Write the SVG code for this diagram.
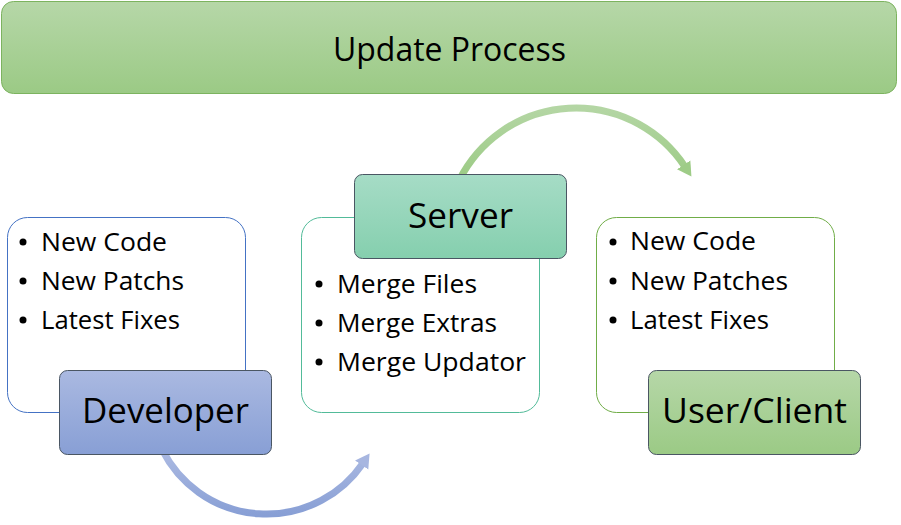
<svg xmlns="http://www.w3.org/2000/svg" width="901" height="525" viewBox="0 0 901 525">
<defs>
<linearGradient id="gGreen" x1="0" y1="0" x2="0" y2="1"><stop offset="0" stop-color="#b6d7a8"/><stop offset="1" stop-color="#9bca85"/></linearGradient>
<linearGradient id="gBlue" x1="0" y1="0" x2="0" y2="1"><stop offset="0" stop-color="#aab9e1"/><stop offset="1" stop-color="#889fd5"/></linearGradient>
<linearGradient id="gTeal" x1="0" y1="0" x2="0" y2="1"><stop offset="0" stop-color="#a6dcc6"/><stop offset="1" stop-color="#85cfae"/></linearGradient>
<linearGradient id="aBlue" gradientUnits="userSpaceOnUse" x1="0" y1="455" x2="0" y2="515"><stop offset="0" stop-color="#a9b8e1"/><stop offset="1" stop-color="#889fd5"/></linearGradient>
<linearGradient id="aGreen" gradientUnits="userSpaceOnUse" x1="0" y1="108" x2="0" y2="178"><stop offset="0" stop-color="#b4d6a4"/><stop offset="1" stop-color="#9ccb85"/></linearGradient>
<marker id="mGreen" markerUnits="userSpaceOnUse" viewBox="-2 -9 16 18" markerWidth="16" markerHeight="18" refX="0" refY="0" orient="auto"><path d="M-2,-8 L12,0 L-2,8 Z" fill="#9ecc87"/></marker>
<marker id="mBlue" markerUnits="userSpaceOnUse" viewBox="-2 -9 16 18" markerWidth="16" markerHeight="18" refX="0" refY="0" orient="auto"><path d="M-2,-8 L12,0 L-2,8 Z" fill="#a7b6e0"/></marker>
</defs>
<style>
text{font-family:"Open Sans","Noto Sans","Liberation Sans",sans-serif;fill:#000}
.item{font-size:25px}
.head{font-size:34px;text-anchor:middle}
.card{fill:#fff;stroke-width:1}
.hdr{stroke:#4a5663;stroke-width:1}
.dot{fill:#000}
</style>
<g id="connectors">
<path d="M162.4,450.2 A116.8,116.8 0 0 0 362.8,463.4" fill="none" stroke="url(#aBlue)" stroke-width="7" marker-end="url(#mBlue)"/>
<path d="M459.7,179.3 A130.5,130.5 0 0 1 684.8,166.5" fill="none" stroke="url(#aGreen)" stroke-width="7" marker-end="url(#mGreen)"/>
</g>
<g id="banner">
<rect x="1.5" y="1.5" width="895" height="92" rx="12" fill="url(#gGreen)" stroke="#7cb35f" stroke-width="1"/>
<text x="449.5" y="61" font-size="32" text-anchor="middle" textLength="233" lengthAdjust="spacingAndGlyphs">Update Process</text>
</g>
<g id="developer">
<rect class="card" x="7.5" y="217.5" width="238" height="195" rx="20" stroke="#4472c4"/>
<circle class="dot" cx="23" cy="242" r="3.5"/><text class="item" x="41" y="251" textLength="126" lengthAdjust="spacingAndGlyphs">New Code</text>
<circle class="dot" cx="23" cy="281" r="3.5"/><text class="item" x="41" y="290" textLength="143" lengthAdjust="spacingAndGlyphs">New Patchs</text>
<circle class="dot" cx="23" cy="320" r="3.5"/><text class="item" x="41" y="329" textLength="139" lengthAdjust="spacingAndGlyphs">Latest Fixes</text>
<rect class="hdr" x="59.5" y="370.5" width="212" height="84" rx="8" fill="url(#gBlue)"/>
<text class="head" x="165.5" y="423" textLength="167" lengthAdjust="spacingAndGlyphs">Developer</text>
</g>
<g id="server">
<rect class="card" x="301.5" y="217.5" width="238" height="195" rx="20" stroke="#52bb99"/>
<circle class="dot" cx="319" cy="284" r="3.5"/><text class="item" x="337" y="293" textLength="140" lengthAdjust="spacingAndGlyphs">Merge Files</text>
<circle class="dot" cx="319" cy="323" r="3.5"/><text class="item" x="337" y="332" textLength="160" lengthAdjust="spacingAndGlyphs">Merge Extras</text>
<circle class="dot" cx="319" cy="362" r="3.5"/><text class="item" x="337" y="371" textLength="189" lengthAdjust="spacingAndGlyphs">Merge Updator</text>
<rect class="hdr" x="354.5" y="174.5" width="212" height="84" rx="8" fill="url(#gTeal)"/>
<text class="head" x="460.5" y="228" textLength="105" lengthAdjust="spacingAndGlyphs">Server</text>
</g>
<g id="userclient">
<rect class="card" x="596.5" y="217.5" width="238" height="195" rx="20" stroke="#70ad47"/>
<circle class="dot" cx="613" cy="242" r="3.5"/><text class="item" x="630" y="250" textLength="126" lengthAdjust="spacingAndGlyphs">New Code</text>
<circle class="dot" cx="613" cy="281" r="3.5"/><text class="item" x="630" y="290" textLength="158" lengthAdjust="spacingAndGlyphs">New Patches</text>
<circle class="dot" cx="613" cy="320" r="3.5"/><text class="item" x="630" y="329" textLength="139" lengthAdjust="spacingAndGlyphs">Latest Fixes</text>
<rect class="hdr" x="648.5" y="370.5" width="212" height="84" rx="8" fill="url(#gGreen)"/>
<text class="head" x="754.5" y="423" textLength="185" lengthAdjust="spacingAndGlyphs">User/Client</text>
</g>
</svg>
